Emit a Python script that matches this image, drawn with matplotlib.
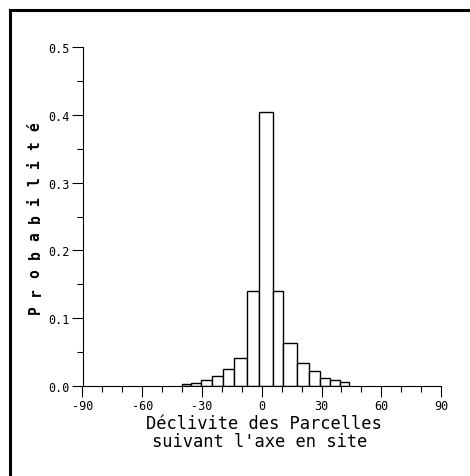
import numpy as np
import matplotlib
matplotlib.use('Agg')
import matplotlib.pyplot as plt
from matplotlib.lines import Line2D

# bin edges (degrees) and probabilities
edges = [-40.0, -35.7, -30.3, -25.0, -19.6, -13.8, -7.6, -1.2, 5.5,
         10.8, 17.5, 23.6, 29.4, 34.3, 39.3, 44.0]
probs = [0.0025, 0.0045, 0.009, 0.0145, 0.025, 0.041, 0.14, 0.405, 0.14,
         0.063, 0.033, 0.021, 0.0115, 0.008, 0.005]
xticks = [-90, -60, -30, 0, 30, 60, 90]
yticks = [0.0, 0.1, 0.2, 0.3, 0.4, 0.5]
ylabel = 'Probabilité'

mono = 'DejaVu Sans Mono'
W, H = 470, 477
fig = plt.figure(figsize=(W / 100, H / 100), dpi=100)
ax = fig.add_axes([82.5 / W, 1 - 386.7 / H, 358.5 / W, 338.4 / H])

left = np.array(edges[:-1])
widths = np.diff(edges)
ax.bar(left, probs, width=widths, align='edge', color='white',
       edgecolor='black', linewidth=1.0, zorder=2)

ax.set_xlim(-90, 90)
ax.set_ylim(0, 0.5)
ax.spines['top'].set_visible(False)
ax.spines['right'].set_visible(False)
ax.spines['left'].set_linewidth(0.8)
ax.spines['bottom'].set_linewidth(0.8)

ax.set_xticks(xticks)
ax.set_xticks(np.arange(-90, 91, 10), minor=True)
ax.set_yticks(yticks)
ax.set_yticks(np.arange(0, 0.51, 0.05), minor=True)
ax.set_xticklabels([str(t) for t in xticks], fontfamily=mono, fontsize=8.5)
ax.set_yticklabels(['%.1f' % t for t in yticks], fontfamily=mono, fontsize=8.5)
ax.tick_params(axis='both', which='major', length=8, width=0.8, direction='out')
ax.tick_params(axis='both', which='minor', length=4.5, width=0.8, direction='out')
ax.tick_params(axis='x', which='major', pad=1.5)
ax.tick_params(axis='y', which='major', pad=1.5)

# y title: spaced-out letters, bottom to top
ys = np.linspace(310, 127, len(ylabel))
for ch, y in zip(ylabel, ys):
    fig.text(35 / W, 1 - y / H, ch, rotation=90, ha='center', va='center',
             fontfamily=mono, fontsize=10.5, fontweight='bold')

# x title
fig.text(264 / W, 1 - 429 / H, 'Déclivite des Parcelles', ha='center',
         va='baseline', fontfamily=mono, fontsize=12.3)
fig.text(260 / W, 1 - 447 / H, "suivant l'axe en site", ha='center',
         va='baseline', fontfamily=mono, fontsize=12.3)

# outer frame (top and left edges visible)
fig.add_artist(Line2D([10.3 / W, 1.0], [1 - 10.8 / H, 1 - 10.8 / H],
                      transform=fig.transFigure, color='black', linewidth=2.2))
fig.add_artist(Line2D([10.3 / W, 10.3 / W], [1 - 10.8 / H, 0.0],
                      transform=fig.transFigure, color='black', linewidth=2.2))

fig.savefig('out.png', dpi=100)
